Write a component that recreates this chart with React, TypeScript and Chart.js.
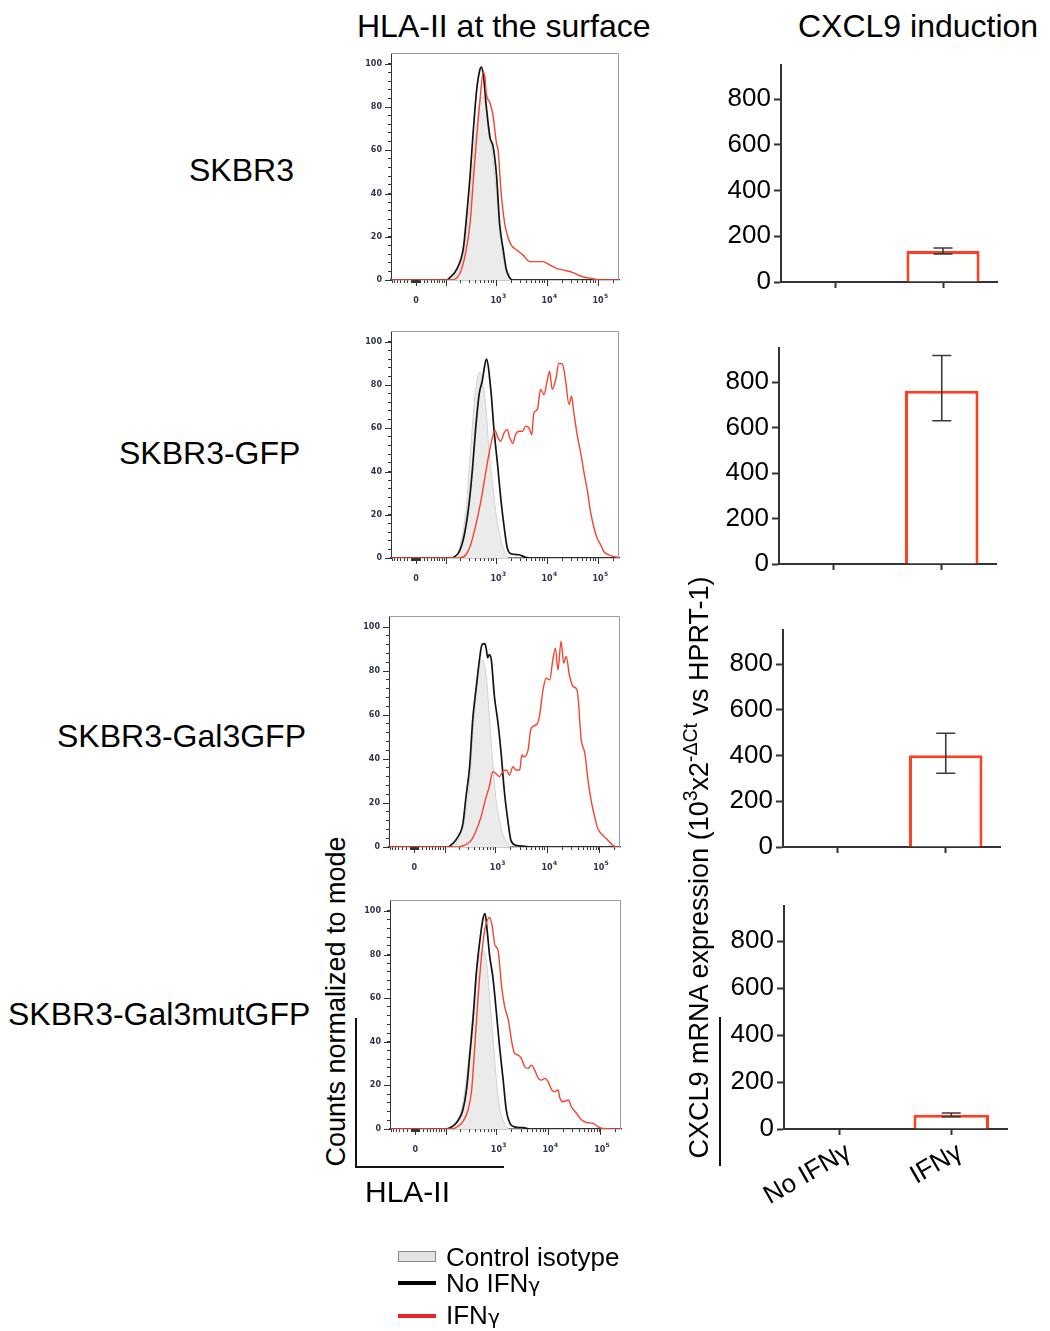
import React, { useEffect, useRef } from "react";
import { Chart, registerables } from "chart.js";

Chart.register(...registerables);

type Pt = [number, number];

/* ---------------- text ---------------- */
const cellLines = ["SKBR3", "SKBR3-GFP", "SKBR3-Gal3GFP", "SKBR3-Gal3mutGFP"];
const conditions = ["No IFNγ", "IFNγ"];
const legendLabels = ["Control isotype", "No IFN", "IFN"];

/* ---------------- CXCL9 qPCR bars (10^3 x 2^-ΔCt) ---------------- */
const cxcl9Skbr3 = [0, 136];
const cxcl9Skbr3Low = [0, 123];
const cxcl9Skbr3High = [0, 149];
const cxcl9Gfp = [0, 762];
const cxcl9GfpLow = [0, 630];
const cxcl9GfpHigh = [0, 917];
const cxcl9Gal3 = [0, 402];
const cxcl9Gal3Low = [0, 323];
const cxcl9Gal3High = [0, 498];
const cxcl9Gal3mut = [0, 61];
const cxcl9Gal3mutLow = [0, 52];
const cxcl9Gal3mutHigh = [0, 68];
const cxcl9Ticks = [0, 200, 400, 600, 800];

/* ---------------- HLA-II histograms: x = display decades of the biexponential axis, y = % of mode ---------------- */
const histMajorValues = [0, 1000, 10000, 100000];
const histMajorBase = ["0", "10", "10", "10"];
const histMajorExp = ["", "3", "4", "5"];
const histLongTickValues = [0, 100, 1000, 10000, 100000];
const histCountLabels = [0, 20, 40, 60, 80, 100];

const skbr3Isotype: Pt[] = [[0.66,0],[0.80,3],[0.93,12],[1.02,28],[1.12,55],[1.19,72],[1.25,82],[1.32,85],[1.38,78],[1.45,68],[1.51,55],[1.58,40],[1.64,22],[1.71,10],[1.77,3],[1.84,0.5],[1.90,0]];
const skbr3NoIfn: Pt[] = [[0.60,0],[0.66,1],[0.80,5],[0.93,15],[0.99,29],[1.06,48],[1.12,68],[1.19,88],[1.25,97],[1.28,98.5],[1.32,95],[1.38,80],[1.45,66],[1.51,62],[1.58,48],[1.64,26],[1.71,14],[1.77,5],[1.84,1],[1.90,0]];
const skbr3Ifn: Pt[] = [[0.70,0],[0.86,3],[0.96,11],[1.06,26],[1.12,45],[1.19,66],[1.25,82],[1.32,96],[1.35,94],[1.38,86],[1.45,82],[1.51,76],[1.58,63],[1.61,60],[1.67,40],[1.74,26],[1.80,20],[1.87,16],[1.97,14],[2.10,11.5],[2.23,8.5],[2.36,8.5],[2.49,8.5],[2.62,7],[2.75,5.4],[2.95,4.3],[3.08,3.4],[3.27,1.5],[3.47,0.6],[3.60,0]];

const gfpIsotype: Pt[] = [[0.72,0],[0.85,5],[0.98,22],[1.07,50],[1.17,78],[1.25,86],[1.30,82],[1.37,70],[1.43,50],[1.50,35],[1.56,22],[1.63,12],[1.69,6],[1.76,2],[1.82,0]];
const gfpNoIfn: Pt[] = [[0.72,0],[0.75,0.5],[0.85,3],[0.95,11],[1.04,25],[1.11,42],[1.17,60],[1.24,76],[1.30,82],[1.34,88],[1.38,92],[1.47,77],[1.53,59],[1.60,43],[1.66,28],[1.73,14],[1.79,4.6],[1.86,2],[2.02,1.5],[2.15,0.3],[2.25,0]];
const gfpIfn: Pt[] = [[0.85,0],[0.98,1.5],[1.07,6],[1.17,15],[1.27,26],[1.37,40],[1.43,48],[1.50,56],[1.55,59],[1.60,56],[1.66,54],[1.73,58],[1.79,59.4],[1.84,55.5],[1.90,53],[1.95,57],[2.02,58.6],[2.09,58.6],[2.15,61],[2.22,60],[2.27,57],[2.31,67],[2.38,68.7],[2.44,78],[2.51,75.6],[2.57,81.8],[2.62,86.4],[2.67,78],[2.74,82.6],[2.80,90],[2.87,89.8],[2.93,82.6],[3.00,71],[3.05,74.8],[3.09,68],[3.16,57],[3.23,48.6],[3.29,40],[3.36,31],[3.42,21.6],[3.49,14],[3.55,9.3],[3.62,6.2],[3.68,3],[3.78,1.5],[3.91,0.5],[3.98,0.3]];

const gal3Isotype: Pt[] = [[0.71,0],[0.84,3],[0.97,12],[1.07,30],[1.13,50],[1.20,70],[1.26,82],[1.32,85],[1.39,78],[1.45,60],[1.52,38],[1.58,22],[1.65,12],[1.71,6],[1.78,2.5],[1.87,0]];
const gal3NoIfn: Pt[] = [[0.65,0],[0.74,1.5],[0.84,4.5],[0.94,10.6],[1.00,22.8],[1.07,36.5],[1.13,57.8],[1.20,73],[1.26,85],[1.31,92],[1.36,92.4],[1.39,90.4],[1.42,86],[1.45,87.4],[1.49,85],[1.55,68.4],[1.62,56.2],[1.68,42.6],[1.74,25.8],[1.81,12],[1.87,3],[1.97,0.8],[2.13,0.3],[2.26,0]];
const gal3Ifn: Pt[] = [[0.84,0],[0.97,0.8],[1.10,3],[1.20,7.6],[1.29,13.7],[1.39,22.8],[1.45,27.4],[1.52,34.2],[1.58,33.4],[1.65,32],[1.71,34.2],[1.78,35],[1.84,32.7],[1.91,36.5],[1.97,35],[2.04,35],[2.08,41.8],[2.13,41],[2.20,44],[2.26,54],[2.36,55.5],[2.42,59.3],[2.49,71.4],[2.55,76.7],[2.62,76],[2.68,85],[2.73,90.4],[2.78,80.5],[2.84,93.5],[2.89,83.6],[2.94,86.6],[3.00,78.3],[3.07,73],[3.15,71.4],[3.23,48.6],[3.30,42.6],[3.36,30.4],[3.42,21.3],[3.49,13.7],[3.55,8.4],[3.65,5.3],[3.75,3],[3.84,0.8],[3.94,0]];

const gal3mutIsotype: Pt[] = [[0.67,0],[0.80,3],[0.92,12],[1.02,30],[1.12,55],[1.18,72],[1.25,80],[1.31,82],[1.38,76],[1.44,60],[1.51,40],[1.57,22],[1.63,10],[1.70,4],[1.76,1],[1.83,0]];
const gal3mutNoIfn: Pt[] = [[0.60,0],[0.73,1.4],[0.83,4],[0.92,8.7],[0.99,17.9],[1.05,33],[1.12,51.5],[1.18,71.3],[1.25,86.6],[1.31,96.5],[1.35,98.8],[1.39,91],[1.44,79],[1.50,69.8],[1.57,53],[1.63,37.7],[1.70,22.4],[1.76,8.7],[1.83,2.6],[1.92,1],[2.09,0.6],[2.22,0]];
const gal3mutIfn: Pt[] = [[0.67,0],[0.80,0.8],[0.92,3.4],[1.02,8.7],[1.09,17.9],[1.15,37.7],[1.21,59],[1.28,79],[1.34,91],[1.44,97],[1.49,92.7],[1.54,84.3],[1.60,82],[1.67,65.2],[1.73,56],[1.80,50],[1.86,40.8],[1.92,34.7],[1.99,33.9],[2.05,32.4],[2.12,28.5],[2.18,27.8],[2.25,29.3],[2.31,27],[2.38,23.2],[2.44,22.4],[2.51,23.2],[2.57,21.7],[2.64,17.9],[2.70,17.1],[2.76,17.9],[2.80,14],[2.86,12.5],[2.96,13.3],[3.02,10.2],[3.12,7.2],[3.22,4.1],[3.31,3],[3.44,2.6],[3.54,1],[3.64,0.2],[3.98,0]];

/* ---------------- axis helpers ---------------- */
const HIST_X_MIN = -0.49;
const HIST_X_MAX = 3.98;
const HIST_Y_MAX = 105;
const BIEX_WIDTH = 54;
const toDisplay = (v: number) => Math.asinh(v / BIEX_WIDTH) / Math.LN10;

function biexTickValues(): number[] {
  const out: number[] = [];
  for (const d of [1, 10]) for (let m = 1; m <= 9; m++) out.push(-m * d);
  out.push(0);
  for (const d of [1, 10, 100, 1000, 10000]) for (let m = 1; m <= 9; m++) out.push(m * d);
  out.push(100000, 200000);
  return out
    .map(toDisplay)
    .filter((u) => u >= HIST_X_MIN && u <= HIST_X_MAX)
    .sort((a, b) => a - b);
}

/* ---------------- style ---------------- */
const FONT = '"Liberation Sans", Arial, Helvetica, sans-serif';
const HIST_RED = "#f3452f";
const BAR_RED = "#ff3f1f";
const LEGEND_RED = "#e8232a";
const AXIS_DARK = "#333333";
const HIST_LABEL = "#30344a";

type Box = { l: number; t: number; r: number; b: number };

const histBoxes: Box[] = [
  { l: 391, t: 53, r: 619, b: 280 },
  { l: 391, t: 331, r: 619, b: 558 },
  { l: 389, t: 616, r: 620, b: 847 },
  { l: 390, t: 900, r: 621, b: 1129 },
];
const barBoxes: Box[] = [
  { l: 781, t: 65, r: 997, b: 282 },
  { l: 779, t: 348, r: 996, b: 564 },
  { l: 783, t: 630, r: 1000, b: 847 },
  { l: 784, t: 906, r: 1007, b: 1129 },
];

function HistPanel({ box, isotype, noIfn, ifn }: { box: Box; isotype: Pt[]; noIfn: Pt[]; ifn: Pt[] }) {
  const ref = useRef<HTMLCanvasElement>(null);
  const YW = 36, XH = 34, PT = 4, PR = 4;
  const w = box.r - box.l + YW + PR;
  const h = box.b - box.t + PT + XH;
  useEffect(() => {
    const withBase = (pts: Pt[]) => [
      { x: HIST_X_MIN, y: 0 },
      ...pts.map(([x, y]) => ({ x, y })),
      { x: HIST_X_MAX, y: 0 },
    ];
    const xTicks = biexTickValues();
    const yTicks: number[] = [];
    for (let v = 0; v <= 100; v += 4) yTicks.push(v);
    const tickFont = { family: '"DejaVu Sans", Verdana, sans-serif', size: 8, weight: "bold" as const };

    const framePlugin = {
      id: "histFrame",
      afterDraw(chart: any) {
        const { ctx, chartArea: a, scales } = chart;
        ctx.save();
        ctx.strokeStyle = "#9a9a9a";
        ctx.lineWidth = 1;
        ctx.beginPath();
        ctx.moveTo(a.left, a.top + 0.5);
        ctx.lineTo(a.right - 0.5, a.top + 0.5);
        ctx.lineTo(a.right - 0.5, a.bottom);
        ctx.stroke();
        ctx.strokeStyle = AXIS_DARK;
        ctx.beginPath();
        for (const v of histLongTickValues) {
          const px = Math.round(scales.x.getPixelForValue(toDisplay(v))) + 0.5;
          ctx.moveTo(px, a.bottom);
          ctx.lineTo(px, a.bottom + 6);
        }
        for (const v of histCountLabels) {
          const py = Math.round(scales.y.getPixelForValue(v)) + 0.5;
          ctx.moveTo(a.left - 6, py);
          ctx.lineTo(a.left, py);
        }
        ctx.stroke();
        // decade labels with superscript exponents
        ctx.fillStyle = HIST_LABEL;
        ctx.textBaseline = "middle";
        histMajorValues.forEach((v, i) => {
          const px = scales.x.getPixelForValue(toDisplay(v));
          ctx.font = 'bold 8px "DejaVu Sans", Verdana, sans-serif';
          ctx.textAlign = "center";
          const bw = ctx.measureText(histMajorBase[i]).width;
          ctx.fillText(histMajorBase[i], px, a.bottom + 21);
          if (histMajorExp[i]) {
            ctx.font = 'bold 6px "DejaVu Sans", Verdana, sans-serif';
            ctx.textAlign = "left";
            ctx.fillText(histMajorExp[i], px + bw / 2 + 0.3, a.bottom + 16);
          }
        });
        ctx.restore();
      },
    };

    const chart = new Chart(ref.current!, {
      type: "line",
      data: {
        datasets: [
          { data: withBase(ifn), borderColor: HIST_RED, borderWidth: 1.4, order: 0, fill: false, cubicInterpolationMode: "monotone" },
          { data: withBase(noIfn), borderColor: "#141414", borderWidth: 1.7, order: 1, fill: false, cubicInterpolationMode: "monotone" },
          { data: withBase(isotype), borderColor: "#d2d2d2", borderWidth: 1, backgroundColor: "#ebebeb", fill: "origin", order: 2, cubicInterpolationMode: "monotone" },
        ] as any,
      },
      options: {
        animation: false,
        responsive: false,
        maintainAspectRatio: false,
        layout: { padding: { top: PT, right: PR, left: 0, bottom: 0 } },
        plugins: { legend: { display: false }, tooltip: { enabled: false } },
        elements: { point: { radius: 0 } },
        scales: {
          x: {
            type: "linear",
            min: HIST_X_MIN,
            max: HIST_X_MAX,
            afterBuildTicks: (s: any) => {
              s.ticks = xTicks.map((u) => ({ value: u }));
            },
            afterFit: (s: any) => {
              s.height = XH;
              s.paddingLeft = 0;
              s.paddingRight = 0;
            },
            ticks: {
              autoSkip: false,
              maxRotation: 0,
              minRotation: 0,
              padding: 11,
              font: tickFont,
              color: HIST_LABEL,
              callback: () => "",
            },
            grid: { drawOnChartArea: false, tickLength: 3, tickColor: AXIS_DARK, tickWidth: 1 },
            border: { color: AXIS_DARK, width: 1.3 },
          },
          y: {
            min: 0,
            max: HIST_Y_MAX,
            afterBuildTicks: (s: any) => {
              s.ticks = yTicks.map((v) => ({ value: v }));
            },
            afterFit: (s: any) => {
              s.width = YW;
              s.paddingTop = 0;
              s.paddingBottom = 0;
            },
            ticks: {
              autoSkip: false,
              padding: 6,
              font: tickFont,
              color: HIST_LABEL,
              callback: (val: any) => (histCountLabels.includes(Number(val)) ? String(val) : ""),
            },
            grid: { drawOnChartArea: false, tickLength: 3, tickColor: AXIS_DARK, tickWidth: 1 },
            border: { color: AXIS_DARK, width: 1 },
          },
        },
      } as any,
      plugins: [framePlugin],
    });
    return () => chart.destroy();
  }, []);
  return (
    <canvas
      ref={ref}
      width={w}
      height={h}
      style={{ position: "absolute", left: box.l - YW, top: box.t - PT, width: w, height: h }}
    />
  );
}

function BarPanel({ box, mean, low, high, showLabels }: { box: Box; mean: number[]; low: number[]; high: number[]; showLabels: boolean }) {
  const ref = useRef<HTMLCanvasElement>(null);
  const YW = 70, PT = 4, PR = 4;
  const XH = showLabels ? 110 : 16;
  const w = box.r - box.l + YW + PR;
  const h = box.b - box.t + PT + XH;
  useEffect(() => {
    const errPlugin = {
      id: "errBars",
      afterDatasetsDraw(chart: any) {
        const { ctx, scales } = chart;
        const meta = chart.getDatasetMeta(0);
        ctx.save();
        ctx.strokeStyle = "#3a3a3a";
        ctx.lineWidth = 1.6;
        meta.data.forEach((bar: any, i: number) => {
          if (!(high[i] > low[i])) return;
          const x = bar.x;
          const yt = scales.y.getPixelForValue(high[i]);
          const yb = scales.y.getPixelForValue(low[i]);
          ctx.beginPath();
          ctx.moveTo(x, yt);
          ctx.lineTo(x, yb);
          ctx.moveTo(x - 9.5, yt);
          ctx.lineTo(x + 9.5, yt);
          ctx.moveTo(x - 9.5, yb);
          ctx.lineTo(x + 9.5, yb);
          ctx.stroke();
        });
        ctx.restore();
      },
    };
    const labelFont = { family: FONT, size: 26 };
    const chart = new Chart(ref.current!, {
      type: "bar",
      data: {
        labels: conditions,
        datasets: [
          {
            data: mean,
            backgroundColor: "#ffffff",
            borderColor: BAR_RED,
            borderWidth: 3,
            barPercentage: 0.677,
            categoryPercentage: 1,
          },
        ],
      },
      options: {
        animation: false,
        responsive: false,
        maintainAspectRatio: false,
        layout: { padding: { top: PT, right: PR, left: 0, bottom: 0 } },
        plugins: { legend: { display: false }, tooltip: { enabled: false } },
        scales: {
          x: {
            offset: true,
            afterFit: (s: any) => {
              s.height = XH;
              s.paddingLeft = 0;
              s.paddingRight = 0;
            },
            ticks: {
              display: showLabels,
              autoSkip: false,
              minRotation: 30,
              maxRotation: 30,
              padding: 2,
              labelOffset: 9,
              font: labelFont,
              color: "#000",
            },
            grid: { offset: false, drawOnChartArea: false, tickLength: 6, tickColor: AXIS_DARK, tickWidth: 2 },
            border: { color: AXIS_DARK, width: 2 },
          },
          y: {
            min: 0,
            max: 950,
            afterBuildTicks: (s: any) => {
              s.ticks = cxcl9Ticks.map((v) => ({ value: v }));
            },
            afterFit: (s: any) => {
              s.width = YW;
              s.paddingTop = 0;
              s.paddingBottom = 0;
            },
            ticks: { autoSkip: false, padding: 3, font: labelFont, color: "#000" },
            grid: { drawOnChartArea: false, tickLength: 7, tickColor: AXIS_DARK, tickWidth: 2 },
            border: { color: AXIS_DARK, width: 2 },
          },
        },
      } as any,
      plugins: [errPlugin],
    });
    return () => chart.destroy();
  }, []);
  return (
    <canvas
      ref={ref}
      width={w}
      height={h}
      style={{ position: "absolute", left: box.l - YW, top: box.t - PT, width: w, height: h }}
    />
  );
}

function Txt({ x, cy, size, children }: { x: number; cy: number; size: number; children: React.ReactNode }) {
  return (
    <div
      style={{
        position: "absolute",
        left: x,
        top: cy - 0.49 * size,
        fontSize: size,
        lineHeight: `${size}px`,
        whiteSpace: "nowrap",
      }}
    >
      {children}
    </div>
  );
}

function VTxt({ cx, cy, size, children }: { cx: number; cy: number; size: number; children: React.ReactNode }) {
  const W = 700;
  return (
    <div
      style={{
        position: "absolute",
        left: cx - W / 2,
        top: cy - size / 2,
        width: W,
        height: size,
        fontSize: size,
        lineHeight: `${size}px`,
        textAlign: "center",
        whiteSpace: "nowrap",
        transform: "rotate(-90deg)",
        transformOrigin: "50% 50%",
      }}
    >
      {children}
    </div>
  );
}

const sup: React.CSSProperties = { fontSize: "0.72em", position: "relative", top: "-0.55em" };
const gammaStyle: React.CSSProperties = { fontFamily: '"DejaVu Sans", sans-serif', fontSize: "0.78em" };

export default function App() {
  const histSets: [Pt[], Pt[], Pt[]][] = [
    [skbr3Isotype, skbr3NoIfn, skbr3Ifn],
    [gfpIsotype, gfpNoIfn, gfpIfn],
    [gal3Isotype, gal3NoIfn, gal3Ifn],
    [gal3mutIsotype, gal3mutNoIfn, gal3mutIfn],
  ];
  const barSets: [number[], number[], number[]][] = [
    [cxcl9Skbr3, cxcl9Skbr3Low, cxcl9Skbr3High],
    [cxcl9Gfp, cxcl9GfpLow, cxcl9GfpHigh],
    [cxcl9Gal3, cxcl9Gal3Low, cxcl9Gal3High],
    [cxcl9Gal3mut, cxcl9Gal3mutLow, cxcl9Gal3mutHigh],
  ];
  const rowLabelX = [189, 119, 57, 8];
  const rowLabelY = [170, 453, 736, 1014];

  return (
    <div
      style={{
        position: "absolute",
        left: 0,
        top: 0,
        width: 1050,
        height: 1331,
        background: "#fff",
        color: "#000",
        fontFamily: FONT,
        overflow: "hidden",
      }}
    >
      <Txt x={357} cy={26} size={32}>HLA-II at the surface</Txt>
      <Txt x={798} cy={26} size={32}>CXCL9 induction</Txt>

      {cellLines.map((name, i) => (
        <Txt key={name} x={rowLabelX[i]} cy={rowLabelY[i]} size={32}>
          {name}
        </Txt>
      ))}

      {histSets.map(([iso, no, yes], i) => (
        <HistPanel key={"h" + i} box={histBoxes[i]} isotype={iso} noIfn={no} ifn={yes} />
      ))}
      {barSets.map(([m, lo, hi], i) => (
        <BarPanel key={"b" + i} box={barBoxes[i]} mean={m} low={lo} high={hi} showLabels={i === 3} />
      ))}

      <VTxt cx={336} cy={1001} size={27}>Counts normalized to mode</VTxt>
      <div style={{ position: "absolute", left: 355, top: 1018, width: 2, height: 150, background: "#111" }} />
      <div style={{ position: "absolute", left: 355, top: 1166, width: 149, height: 2, background: "#111" }} />
      <Txt x={365} cy={1192} size={30}>HLA-II</Txt>

      <VTxt cx={699} cy={867} size={27}>
        CXCL9 mRNA expression (10<span style={sup}>3</span>x2<span style={sup}>-ΔCt</span> vs HPRT-1)
      </VTxt>
      <div style={{ position: "absolute", left: 719, top: 1017, width: 2, height: 149, background: "#111" }} />

      <div
        style={{
          position: "absolute",
          left: 398,
          top: 1251,
          width: 38,
          height: 11,
          boxSizing: "border-box",
          background: "#e3e3e3",
          border: "1px solid #8a8a8a",
        }}
      />
      <Txt x={446} cy={1257} size={26}>{legendLabels[0]}</Txt>
      <div style={{ position: "absolute", left: 398, top: 1281, width: 38, height: 4, background: "#000" }} />
      <Txt x={446} cy={1283} size={26}>
        {legendLabels[1]}
        <span style={gammaStyle}>γ</span>
      </Txt>
      <div style={{ position: "absolute", left: 398, top: 1314, width: 38, height: 4, background: LEGEND_RED }} />
      <Txt x={446} cy={1315} size={26}>
        {legendLabels[2]}
        <span style={gammaStyle}>γ</span>
      </Txt>
    </div>
  );
}
